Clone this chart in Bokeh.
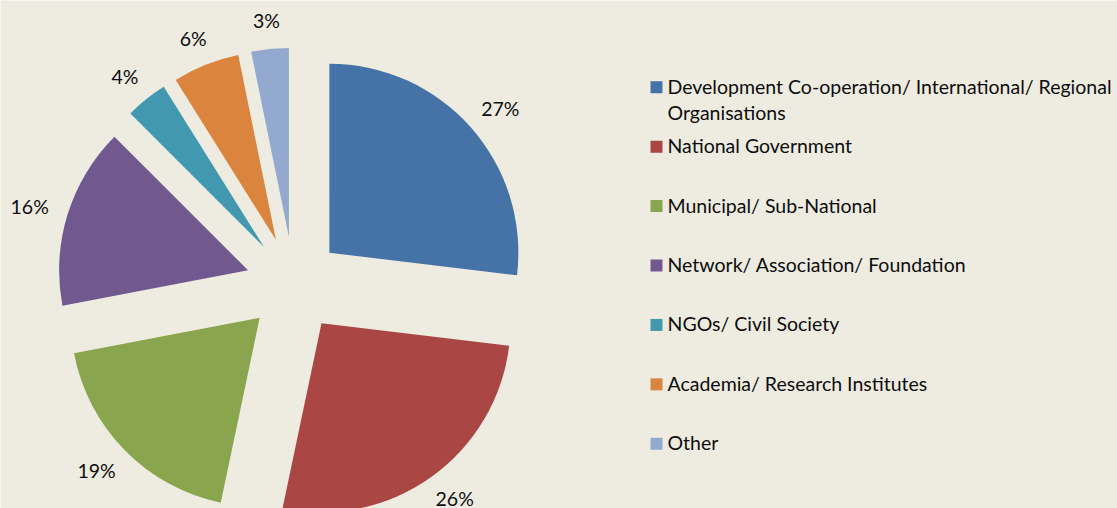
import math
import textwrap
from bokeh.plotting import figure
from bokeh.models import ColumnDataSource, Range1d
from bokeh.embed import file_html
from bokeh.resources import INLINE
from bokeh.core.properties import value

# ---- data ----
categories = [
    "Development Co-operation/ International/ Regional Organisations",
    "National Government",
    "Municipal/ Sub-National",
    "Network/ Association/ Foundation",
    "NGOs/ Civil Society",
    "Academia/ Research Institutes",
    "Other",
]
shares = [26.9, 26.4, 18.7, 15.5, 3.6, 5.7, 3.2]
pct_labels = ["27%", "26%", "19%", "16%", "4%", "6%", "3%"]
colors = ["#4572A7", "#AA4643", "#89A54E", "#71588F", "#4198AF", "#DB843D", "#93A9CF"]

# ---- layout ----
W, H = 1117, 508
BG = "#EEECE1"
FONT = "Lato"
FS = 19.5
CX, CY = 293.2, H - 283.9
R = 189.0
EXPLODE = 47.7
LABEL_GAP = 21.0
EDGE = 10.5

p = figure(width=W, height=H, x_range=Range1d(0, W), y_range=Range1d(0, H),
           output_backend="svg", toolbar_location=None, min_border=0,
           x_axis_type=None, y_axis_type=None,
           background_fill_color=BG, border_fill_color=BG, outline_line_color=None)
p.grid.visible = False

total = sum(shares)
xs, ys, starts, ends, lx, ly = [], [], [], [], [], []
acc = 0.0
for s, lab in zip(shares, pct_labels):
    a0 = acc / total * 2 * math.pi
    acc += s
    a1 = acc / total * 2 * math.pi
    b = (a0 + a1) / 2
    ux, uy = math.sin(b), math.cos(b)
    ax, ay = CX + EXPLODE * ux, CY + EXPLODE * uy
    xs.append(ax)
    ys.append(ay)
    starts.append(math.pi / 2 - a0)
    ends.append(math.pi / 2 - a1)
    hw = 0.5 * (10.8 * (len(lab) - 1) + 15.5)
    hh = 7.5
    tx = ax + (R + LABEL_GAP) * ux + hw * ux
    ty = ay + (R + LABEL_GAP) * uy + hh * uy
    lx.append(tx)
    ly.append(min(max(ty, EDGE), H - EDGE))

src = ColumnDataSource(dict(x=xs, y=ys, start=starts, end=ends, color=colors,
                            cat=categories, lab=pct_labels, lx=lx, ly=ly))
p.wedge(x="x", y="y", radius=R, start_angle="start", end_angle="end",
        direction="clock", fill_color="color", line_color=None, source=src)
p.text(x="lx", y="ly", text="lab", source=src, text_align="center",
       text_baseline="middle", text_font=value(FONT), text_font_size=f"{FS}px",
       text_color="#0d0d0d")

# ---- legend ----
ROW0 = H - 85.7
STEP = 59.43
LINE_PX = 26.0
LINE_H = 1.115
leg_x, leg_y, sq_y, leg_text = [], [], [], []
for i, c in enumerate(categories):
    lines = textwrap.wrap(c, 50)
    ry = ROW0 - i * STEP
    leg_text.append("\n".join(lines))
    leg_x.append(667)
    leg_y.append(ry - (len(lines) - 1) * LINE_PX / 2)
    sq_y.append(ry - 1)

lsrc = ColumnDataSource(dict(x=leg_x, y=leg_y, sq=sq_y, t=leg_text, color=colors))
p.rect(x=656, y="sq", width=12, height=12, fill_color="color", line_color=None, source=lsrc)
p.text(x="x", y="y", text="t", source=lsrc, text_align="left", text_baseline="middle",
       text_font=value(FONT), text_font_size=f"{FS}px", text_line_height=LINE_H,
       text_color="#0d0d0d")

open("out.html", "w").write(file_html(p, INLINE))
